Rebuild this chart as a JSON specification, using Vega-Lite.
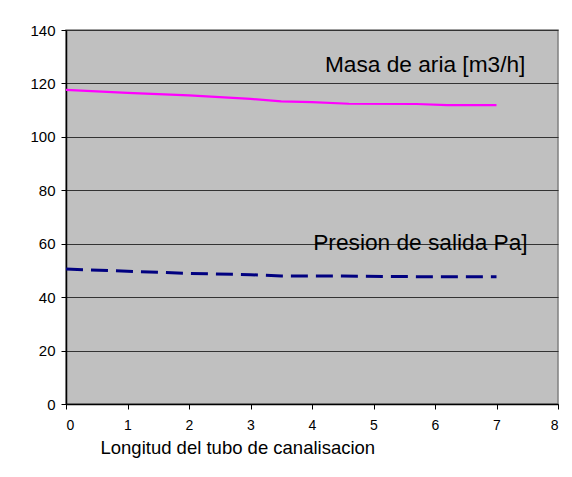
{
  "$schema": "https://vega.github.io/schema/vega-lite/v6.json",
  "width": 492,
  "height": 374,
  "autosize": "none",
  "padding": {"left": 66, "top": 30, "right": 14, "bottom": 73},
  "background": "white",
  "config": {
    "view": {"fill": "#C0C0C0", "stroke": "#808080", "strokeWidth": 1.5},
    "font": "Liberation Sans"
  },
  "datasets": {
    "series": [
      {"x": 0, "v": 117.6, "s": "Masa"},
      {"x": 1, "v": 116.5, "s": "Masa"},
      {"x": 2, "v": 115.5, "s": "Masa"},
      {"x": 3, "v": 114.2, "s": "Masa"},
      {"x": 3.5, "v": 113.3, "s": "Masa"},
      {"x": 4, "v": 113.0, "s": "Masa"},
      {"x": 4.6, "v": 112.4, "s": "Masa"},
      {"x": 5.7, "v": 112.3, "s": "Masa"},
      {"x": 6.2, "v": 111.9, "s": "Masa"},
      {"x": 7, "v": 111.9, "s": "Masa"},
      {"x": 0, "v": 50.5, "s": "Presion"},
      {"x": 1, "v": 49.7, "s": "Presion"},
      {"x": 2, "v": 48.9, "s": "Presion"},
      {"x": 3, "v": 48.4, "s": "Presion"},
      {"x": 3.5, "v": 47.9, "s": "Presion"},
      {"x": 4.5, "v": 47.9, "s": "Presion"},
      {"x": 6, "v": 47.6, "s": "Presion"},
      {"x": 7, "v": 47.6, "s": "Presion"}
    ],
    "labels": [
      {"x": 4.21, "v": 126.9, "t": "Masa de aria [m3/h]"},
      {"x": 4.02, "v": 60.2, "t": "Presion de salida Pa]"}
    ]
  },
  "layer": [
    {
      "data": {"name": "series"},
      "transform": [{"filter": "datum.s === 'Masa'"}],
      "mark": {"type": "line", "color": "#FF00FF", "strokeWidth": 2.2},
      "encoding": {
        "x": {
          "field": "x", "type": "quantitative",
          "scale": {"domain": [0, 8], "nice": false},
          "axis": {
            "values": [0, 1, 2, 3, 4, 5, 6, 7, 8],
            "format": "d",
            "grid": false,
            "domainColor": "#000000",
            "domainWidth": 1.5,
            "tickColor": "#000000",
            "tickSize": 5,
            "labelFontSize": 14,
            "labelColor": "#000000",
            "labelPadding": 9,
            "title": "Longitud del tubo de canalisacion",
            "titleFontSize": 18.5,
            "titleFontWeight": "normal",
            "titleColor": "#000000",
            "titleAnchor": "start",
            "titleAlign": "left",
            "titleX": 34,
            "titleY": 49,
            "titleBaseline": "alphabetic"
          }
        },
        "y": {
          "field": "v", "type": "quantitative",
          "scale": {"domain": [0, 140], "nice": false},
          "axis": {
            "values": [0, 20, 40, 60, 80, 100, 120, 140],
            "grid": true,
            "gridColor": "#333333",
            "gridWidth": 1.2,
            "domainColor": "#000000",
            "domainWidth": 1.5,
            "tickColor": "#000000",
            "tickSize": 5,
            "labelFontSize": 15,
            "labelColor": "#000000",
            "labelPadding": 6,
            "title": null
          }
        }
      }
    },
    {
      "data": {"name": "series"},
      "transform": [{"filter": "datum.s === 'Presion'"}],
      "mark": {"type": "line", "color": "#000080", "strokeWidth": 3, "strokeDash": [17, 8]},
      "encoding": {
        "x": {"field": "x", "type": "quantitative"},
        "y": {"field": "v", "type": "quantitative"}
      }
    },
    {
      "data": {"name": "labels"},
      "mark": {"type": "text", "align": "left", "baseline": "middle", "fontSize": 22.7, "color": "#000000"},
      "encoding": {
        "x": {"field": "x", "type": "quantitative"},
        "y": {"field": "v", "type": "quantitative"},
        "text": {"field": "t"}
      }
    }
  ]
}
